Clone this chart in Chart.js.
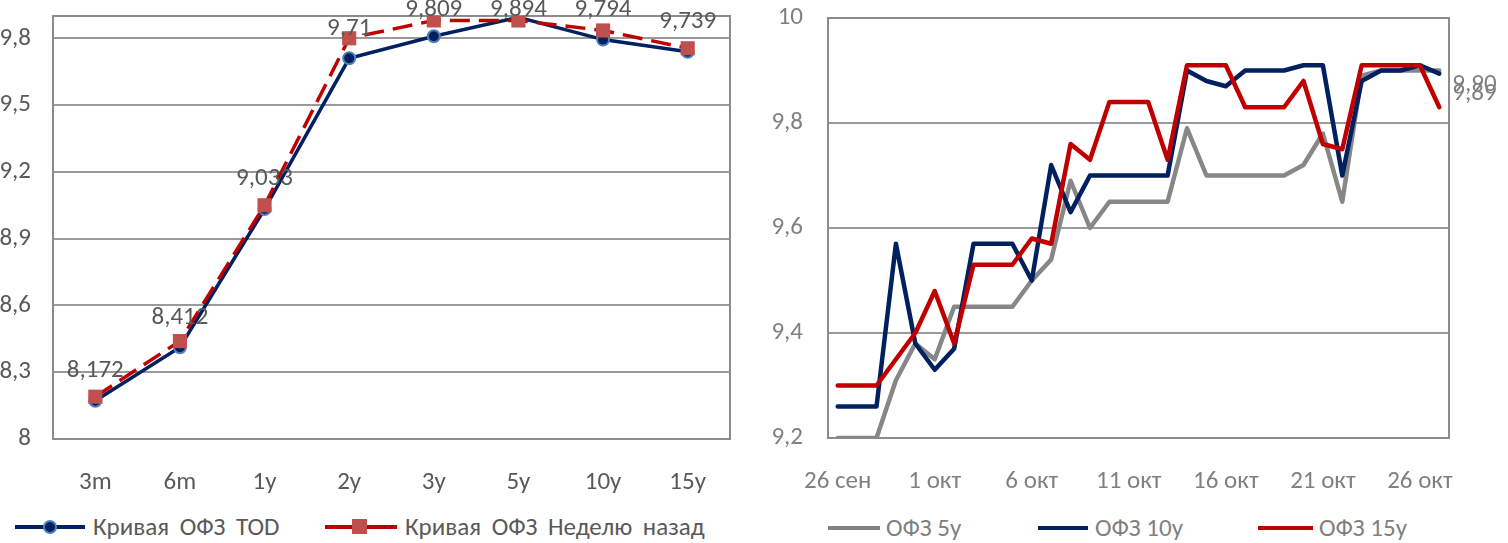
<!DOCTYPE html>
<html>
<head>
<meta charset="utf-8">
<script src="https://cdn.jsdelivr.net/npm/chart.js@4/dist/chart.umd.min.js"></script>
<style>
    body { margin: 0; width: 1508px; height: 543px; overflow: hidden; background: #fff; position: relative; font-family: Carlito, Lato, sans-serif; }
    canvas { position: absolute; top: 0; }
    #curve { left: -20px; }
    #history { left: 750px; }
    .lg { position: absolute; font-size: 25px; line-height: 26px; white-space: nowrap; }
    .wide { word-spacing: 5px; }
    .ln { position: absolute; height: 4px; }
    .mk { position: absolute; box-sizing: border-box; }
</style>
</head>
<body>
<canvas id="curve" width="770" height="510"></canvas>
<canvas id="history" width="758" height="510"></canvas>

<!-- left legend -->
<div class="ln" style="left:15px;top:525px;width:70px;background:#002060"></div>
<div class="mk" style="left:43px;top:520px;width:14px;height:14px;border-radius:50%;background:#002060;border:2px solid #4F81BD"></div>
<div class="lg wide" style="left:93px;top:514px;color:#595959">Кривая ОФЗ TOD</div>
<div class="ln" style="left:325px;top:525px;width:72px;background:#C00000"></div>
<div class="mk" style="left:352px;top:519px;width:15px;height:15px;background:#C0504D"></div>
<div class="lg wide" style="left:405px;top:514px;color:#595959">Кривая ОФЗ Неделю назад</div>

<!-- right legend -->
<div class="ln" style="left:828px;top:526px;width:52px;background:#808080"></div>
<div class="lg" style="left:886px;top:515px;color:#808080">ОФЗ 5y</div>
<div class="ln" style="left:1038px;top:526px;width:50px;background:#002060"></div>
<div class="lg" style="left:1095px;top:515px;color:#808080">ОФЗ 10y</div>
<div class="ln" style="left:1258px;top:526px;width:55px;background:#C00000"></div>
<div class="lg" style="left:1319px;top:515px;color:#808080">ОФЗ 15y</div>

<script>
    // yield curve
    const tenors = ['3m', '6m', '1y', '2y', '3y', '5y', '10y', '15y'];
    const curveToday = [8.172, 8.412, 9.033, 9.71, 9.809, 9.894, 9.794, 9.739];
    const curveWeekAgo = [8.19, 8.44, 9.05, 9.80, 9.88, 9.88, 9.835, 9.755];
    const curveTicks = [8, 8.3, 8.6, 8.9, 9.2, 9.5, 9.8];

    // history of yields
    const days = ['26 сен', '27 сен', '28 сен', '29 сен', '30 сен',
        '1 окт', '2 окт', '3 окт', '4 окт', '5 окт', '6 окт', '7 окт', '8 окт', '9 окт', '10 окт',
        '11 окт', '12 окт', '13 окт', '14 окт', '15 окт', '16 окт', '17 окт', '18 окт', '19 окт', '20 окт',
        '21 окт', '22 окт', '23 окт', '24 окт', '25 окт', '26 окт', '27 окт'];
    const ofz5 = [9.20, 9.20, 9.20, 9.31, 9.38, 9.35, 9.45, 9.45, 9.45, 9.45, 9.50, 9.54, 9.69, 9.60, 9.65, 9.65,
        9.65, 9.65, 9.79, 9.70, 9.70, 9.70, 9.70, 9.70, 9.72, 9.78, 9.65, 9.89, 9.90, 9.90, 9.90, 9.90];
    const ofz10 = [9.26, 9.26, 9.26, 9.57, 9.38, 9.33, 9.37, 9.57, 9.57, 9.57, 9.50, 9.72, 9.63, 9.70, 9.70, 9.70,
        9.70, 9.70, 9.90, 9.88, 9.87, 9.90, 9.90, 9.90, 9.91, 9.91, 9.70, 9.88, 9.90, 9.90, 9.91, 9.894];
    const ofz15 = [9.30, 9.30, 9.30, 9.35, 9.40, 9.48, 9.38, 9.53, 9.53, 9.53, 9.58, 9.57, 9.76, 9.73, 9.84, 9.84,
        9.84, 9.73, 9.91, 9.91, 9.91, 9.83, 9.83, 9.83, 9.88, 9.76, 9.75, 9.91, 9.91, 9.91, 9.91, 9.83];
    const historyTicks = [9.2, 9.4, 9.6, 9.8, 10];

    const FONT = 'Carlito, Lato, sans-serif';
    Chart.defaults.font.family = FONT;
    Chart.defaults.font.size = 25;

    const comma = v => String(Math.round(v * 1000) / 1000).replace('.', ',');

    // keep the plot area exactly where the layout padding puts it
    const noEdgePad = s => { s.paddingTop = 0; s.paddingBottom = 0; s.paddingLeft = 0; s.paddingRight = 0; };

    // gray box around the plot area
    const frameBox = {
        id: 'frameBox',
        beforeDatasetsDraw(chart) {
            const { ctx, chartArea: a } = chart;
            ctx.save();
            ctx.strokeStyle = '#8c8c8c';
            ctx.lineWidth = 2;
            ctx.strokeRect(a.left, a.top, a.right - a.left, a.bottom - a.top);
            ctx.restore();
        }
    };

    // value labels above today's curve
    const curveLabels = {
        id: 'curveLabels',
        afterDatasetsDraw(chart) {
            const ctx = chart.ctx;
            const meta = chart.getDatasetMeta(0);
            ctx.save();
            ctx.font = '25px ' + FONT;
            ctx.fillStyle = '#595959';
            ctx.textAlign = 'center';
            ctx.textBaseline = 'middle';
            meta.data.forEach((pt, i) => {
                ctx.fillText(comma(curveToday[i]), pt.x, Math.max(pt.y - 30, 10));
            });
            ctx.restore();
        }
    };

    // last-value labels for 5y and 10y
    const endLabels = {
        id: 'endLabels',
        afterDatasetsDraw(chart) {
            const ctx = chart.ctx;
            ctx.save();
            ctx.font = '25px ' + FONT;
            ctx.fillStyle = '#808080';
            ctx.textAlign = 'left';
            ctx.textBaseline = 'middle';
            [[0, 14], [1, 20]].forEach(([idx, dy]) => {
                const data = chart.getDatasetMeta(idx).data;
                const pt = data[data.length - 1];
                const vals = chart.data.datasets[idx].data;
                ctx.fillText(vals[vals.length - 1].toFixed(2).replace('.', ','), pt.x + 13, pt.y + dy);
            });
            ctx.restore();
        }
    };

    new Chart(document.getElementById('curve'), {
        type: 'line',
        data: {
            labels: tenors,
            datasets: [{
                label: 'Кривая ОФЗ TOD',
                data: curveToday,
                order: 1,
                borderColor: '#002060',
                borderWidth: 3.5,
                pointRadius: 6,
                pointBackgroundColor: '#002060',
                pointBorderColor: '#4F81BD',
                pointBorderWidth: 2
            }, {
                label: 'Кривая ОФЗ Неделю назад',
                data: curveWeekAgo,
                order: 0,
                borderColor: '#C00000',
                borderWidth: 3.5,
                borderDash: [20, 9],
                pointStyle: 'rect',
                pointRadius: 10,
                pointBackgroundColor: '#C0504D',
                pointBorderColor: '#C0504D',
                pointBorderWidth: 0
            }]
        },
        options: {
            responsive: false,
            animation: false,
            events: [],
            layout: { padding: { top: 16, right: 20, left: 0, bottom: 0 } },
            plugins: { legend: { display: false }, tooltip: { enabled: false } },
            scales: {
                x: {
                    offset: true,
                    grid: { display: false, drawTicks: false },
                    border: { display: false },
                    ticks: { color: '#595959', padding: 29, maxRotation: 0 },
                    afterFit: s => { noEdgePad(s); s.height = 71; }
                },
                y: {
                    min: 8,
                    max: 9.9,
                    afterBuildTicks: s => { s.ticks = curveTicks.map(v => ({ value: v })); },
                    grid: { color: '#9a9a9a', lineWidth: 2, drawTicks: false },
                    border: { display: false },
                    ticks: { color: '#595959', padding: 22, callback: v => comma(v) },
                    afterFit: s => { noEdgePad(s); s.width = 73; }
                }
            }
        },
        plugins: [frameBox, curveLabels]
    });

    new Chart(document.getElementById('history'), {
        type: 'line',
        data: {
            labels: days,
            datasets: [{
                label: 'ОФЗ 5y',
                data: ofz5,
                order: 2,
                borderColor: '#878787'
            }, {
                label: 'ОФЗ 10y',
                data: ofz10,
                order: 1,
                borderColor: '#002060'
            }, {
                label: 'ОФЗ 15y',
                data: ofz15,
                order: 0,
                borderColor: '#C00000'
            }]
        },
        options: {
            responsive: false,
            animation: false,
            events: [],
            elements: {
                line: { borderWidth: 4.5, tension: 0, borderJoinStyle: 'round', borderCapStyle: 'round' },
                point: { radius: 0 }
            },
            layout: { padding: { top: 18, right: 59, left: 0, bottom: 0 } },
            plugins: { legend: { display: false }, tooltip: { enabled: false } },
            scales: {
                x: {
                    offset: true,
                    grid: { display: false, drawTicks: false },
                    border: { display: false },
                    ticks: {
                        color: '#808080', padding: 29, maxRotation: 0, autoSkip: false,
                        callback: (v, i) => i % 5 === 0 ? days[i] : ''
                    },
                    afterFit: s => { noEdgePad(s); s.height = 72; }
                },
                y: {
                    min: 9.2,
                    max: 10,
                    afterBuildTicks: s => { s.ticks = historyTicks.map(v => ({ value: v })); },
                    grid: { color: '#9a9a9a', lineWidth: 2, drawTicks: false },
                    border: { display: false },
                    ticks: { color: '#808080', padding: 25, callback: v => comma(v) },
                    afterFit: s => { noEdgePad(s); s.width = 78; }
                }
            }
        },
        plugins: [frameBox, endLabels]
    });
</script>
</body>
</html>
